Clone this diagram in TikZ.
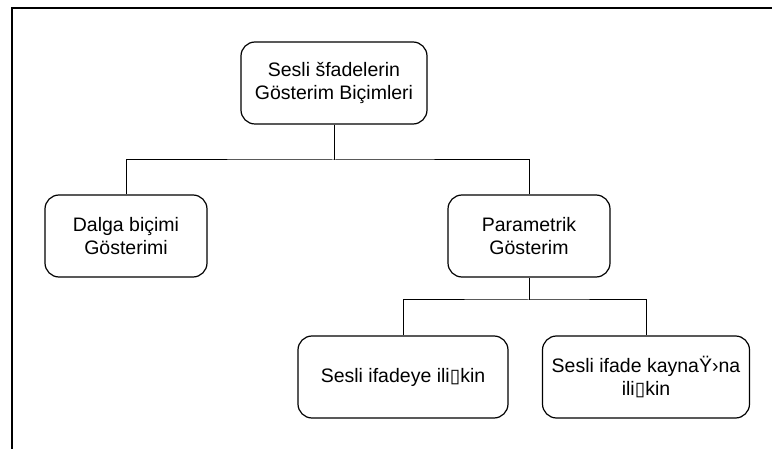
\documentclass[tikz,border=0pt]{standalone}
\usepackage{fontspec}
\setmainfont{Liberation Sans}
\newfontfamily\symfont{DejaVu Sans}
\newcommand{\tofu}{{\symfont\fontsize{19}{19}\selectfont ▯}}

\begin{document}
\begin{tikzpicture}[x=1pt, y=-1pt,
    blok/.style={draw, line width=1.2pt, rounded corners=14pt, align=center,
        inner sep=0pt, font=\fontsize{19.5}{23}\selectfont},
    kol/.style={line width=1pt},
    cerceve/.style={line width=2pt}]
    \useasboundingbox (0,0) rectangle (772,449);

    \draw[cerceve] (772,8.5) -- (12,8.5) -- (12,449);

    \node[blok, minimum width=186pt, minimum height=82pt] (gosterim) at (334,83) {Sesli šfadelerin\\Gösterim Biçimleri};
    \node[blok, minimum width=162pt, minimum height=82pt] (dalga) at (126,236) {Dalga biçimi\\Gösterimi};
    \node[blok, minimum width=162pt, minimum height=82pt] (param) at (529,236) {Parametrik\\Gösterim};
    \node[blok, minimum width=210pt, minimum height=82pt] (ifade) at (403,377) {Sesli ifadeye ili\tofu kin};
    \node[blok, minimum width=207pt, minimum height=82pt] (kaynak) at (646,377) {Sesli ifade kaynaŸ›na\\ili\tofu kin};

    \coordinate (kol1) at (334,160);
    \coordinate (kol2) at (529,300);

    \draw[kol] (gosterim.south) -- (kol1);
    \draw[kol] (dalga.north) |- (kol1) -| (param.north);
    \draw[kol] (param.south) -- (kol2);
    \draw[kol] (ifade.north) |- (kol2) -| (kaynak.north);

\end{tikzpicture}
\end{document}
